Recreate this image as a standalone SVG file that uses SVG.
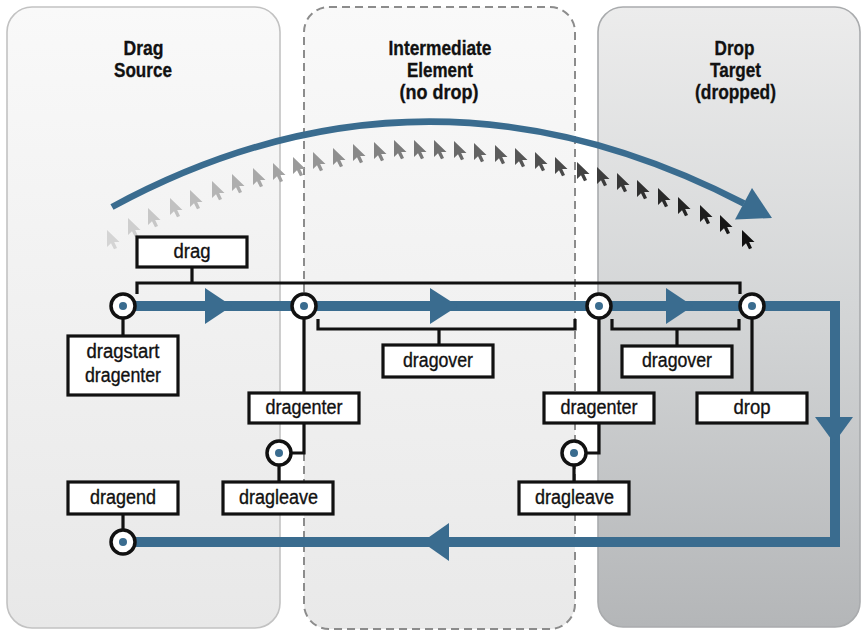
<svg xmlns="http://www.w3.org/2000/svg" width="862" height="631" viewBox="0 0 862 631">
<style>
.hdr{font-family:"Liberation Sans",Arial,sans-serif;font-weight:bold;font-size:19.5px;fill:#111;text-anchor:middle;stroke:#111;stroke-width:0.3}
.lbl{font-family:"Liberation Sans",Arial,sans-serif;font-size:20px;fill:#111;text-anchor:middle;stroke:#111;stroke-width:0.35}
.box{fill:#fff;stroke:#111;stroke-width:3.2}
.ln{fill:none;stroke:#111;stroke-width:3.2}
.flow{fill:none;stroke:#3a6c8f;stroke-width:10}
.head{fill:#3a6c8f}
.ring{fill:#fff;stroke:#111;stroke-width:3.5}
.dot{fill:#3a6c8f}
</style>
<defs>
<linearGradient id="gL" x1="0" y1="0" x2="0" y2="1"><stop offset="0" stop-color="#f9f9f9"/><stop offset="1" stop-color="#e8e8e8"/></linearGradient>
<linearGradient id="gM" x1="0" y1="0" x2="0" y2="1"><stop offset="0" stop-color="#f9f9f9"/><stop offset="1" stop-color="#e9e9e9"/></linearGradient>
<linearGradient id="gR" x1="0" y1="0" x2="0" y2="1"><stop offset="0" stop-color="#ececec"/><stop offset="0.5" stop-color="#d3d5d6"/><stop offset="1" stop-color="#b4b6b8"/></linearGradient>
<path id="cur" d="M0,0 L0,17 L4,13.2 L7,19.3 L10,18 L7.2,12 L12.5,12 Z"/>
</defs>
<rect width="862" height="631" fill="#fff"/>
<g id="panels">
<rect id="panel-source" x="7" y="7" width="273" height="621" rx="25" fill="url(#gL)" stroke="#c2c2c2" stroke-width="1.6"/>
<rect id="panel-intermediate" x="304" y="7" width="271" height="622" rx="25" fill="url(#gM)" stroke="#8c8c8c" stroke-width="2" stroke-dasharray="8 5"/>
<rect id="panel-target" x="598" y="7" width="262" height="620" rx="25" fill="url(#gR)" stroke="#a9abad" stroke-width="1.6"/>
</g>
<g id="headers">
<text class="hdr" x="143.5" y="55" textLength="40" lengthAdjust="spacingAndGlyphs">Drag</text>
<text class="hdr" x="143" y="77" textLength="58" lengthAdjust="spacingAndGlyphs">Source</text>
<text class="hdr" x="440" y="55" textLength="103" lengthAdjust="spacingAndGlyphs">Intermediate</text>
<text class="hdr" x="440" y="77" textLength="66" lengthAdjust="spacingAndGlyphs">Element</text>
<text class="hdr" x="439" y="99" textLength="79" lengthAdjust="spacingAndGlyphs">(no drop)</text>
<text class="hdr" x="734.5" y="55" textLength="40" lengthAdjust="spacingAndGlyphs">Drop</text>
<text class="hdr" x="735.5" y="77" textLength="51" lengthAdjust="spacingAndGlyphs">Target</text>
<text class="hdr" x="735.5" y="99" textLength="81" lengthAdjust="spacingAndGlyphs">(dropped)</text>
</g>
<g id="cursors">
<use href="#cur" x="107" y="230" fill="#d4d4d4"/>
<use href="#cur" x="128" y="218" fill="#cecece"/>
<use href="#cur" x="148" y="208" fill="#c7c7c7"/>
<use href="#cur" x="170" y="198" fill="#c1c1c1"/>
<use href="#cur" x="190" y="190" fill="#bbbbbb"/>
<use href="#cur" x="212" y="181" fill="#b5b5b5"/>
<use href="#cur" x="232" y="174" fill="#aeaeae"/>
<use href="#cur" x="253" y="168" fill="#a8a8a8"/>
<use href="#cur" x="273" y="163" fill="#a2a2a2"/>
<use href="#cur" x="293" y="157" fill="#9b9b9b"/>
<use href="#cur" x="313" y="152" fill="#959595"/>
<use href="#cur" x="333" y="148" fill="#8f8f8f"/>
<use href="#cur" x="353" y="144" fill="#898989"/>
<use href="#cur" x="374" y="142" fill="#828282"/>
<use href="#cur" x="394" y="140" fill="#7c7c7c"/>
<use href="#cur" x="414" y="140" fill="#767676"/>
<use href="#cur" x="434" y="140" fill="#6f6f6f"/>
<use href="#cur" x="454" y="141" fill="#696969"/>
<use href="#cur" x="474" y="143" fill="#636363"/>
<use href="#cur" x="495" y="145" fill="#5c5c5c"/>
<use href="#cur" x="515" y="148" fill="#565656"/>
<use href="#cur" x="535" y="152" fill="#505050"/>
<use href="#cur" x="555" y="157" fill="#4a4a4a"/>
<use href="#cur" x="577" y="162" fill="#434343"/>
<use href="#cur" x="597" y="167" fill="#3d3d3d"/>
<use href="#cur" x="617" y="173" fill="#373737"/>
<use href="#cur" x="637" y="180" fill="#303030"/>
<use href="#cur" x="658" y="188" fill="#2a2a2a"/>
<use href="#cur" x="678" y="197" fill="#242424"/>
<use href="#cur" x="700" y="205" fill="#1d1d1d"/>
<use href="#cur" x="720" y="215" fill="#171717"/>
<use href="#cur" x="742" y="230" fill="#111111"/>
</g>
<g id="connectors">
<path d="M112,207 Q424,38 744,203.5" fill="none" stroke="#3a6c8f" stroke-width="6.5"/>
<polygon class="head" points="752,188 735,219.5 772,218"/>
<path class="flow" d="M123,306 H835 V542 H123"/>
<polygon class="head" points="205,288 205,324 232,306"/>
<polygon class="head" points="430,288 430,324 458,306"/>
<polygon class="head" points="666,288 666,324 693,306"/>
<polygon class="head" points="815,417 853,417 834,443"/>
<polygon class="head" points="449,523 449,561 422,542"/>
<path class="ln" d="M192,267 V283 M137,294 V283 H740 V294"/>
<path class="ln" d="M318,319 V329 H575 V319 M439,329 V345"/>
<path class="ln" d="M612,319 V329 H739 V319 M677,329 V346"/>
<path class="ln" d="M123,318 V336 M304,318 V393 M599,318 V393 M752,318 V393"/>
<path class="ln" d="M304,423 V453 H291 M279,466 V482"/>
<path class="ln" d="M599,423 V453 H587 M574,466 V482"/>
<path class="ln" d="M123,514 V529"/>
</g>
<g id="node-drag"><rect class="box" x="137" y="237" width="110" height="30"/><text class="lbl" x="192" y="258" textLength="37" lengthAdjust="spacingAndGlyphs">drag</text></g>
<g id="node-dragstart"><rect class="box" x="68" y="336" width="110" height="59"/><text class="lbl" x="123" y="358" textLength="73" lengthAdjust="spacingAndGlyphs">dragstart</text><text class="lbl" x="123" y="382" textLength="76" lengthAdjust="spacingAndGlyphs">dragenter</text></g>
<g id="node-dragover-1"><rect class="box" x="383" y="345" width="110" height="32"/><text class="lbl" x="438" y="367" textLength="70" lengthAdjust="spacingAndGlyphs">dragover</text></g>
<g id="node-dragover-2"><rect class="box" x="622" y="346" width="110" height="31"/><text class="lbl" x="677" y="367" textLength="70" lengthAdjust="spacingAndGlyphs">dragover</text></g>
<g id="node-dragenter-1"><rect class="box" x="249" y="393" width="110" height="30"/><text class="lbl" x="304" y="414" textLength="77" lengthAdjust="spacingAndGlyphs">dragenter</text></g>
<g id="node-dragenter-2"><rect class="box" x="544" y="393" width="110" height="30"/><text class="lbl" x="599" y="414" textLength="77" lengthAdjust="spacingAndGlyphs">dragenter</text></g>
<g id="node-drop"><rect class="box" x="697" y="393" width="110" height="30"/><text class="lbl" x="752" y="414" textLength="37" lengthAdjust="spacingAndGlyphs">drop</text></g>
<g id="node-dragleave-1"><rect class="box" x="223" y="482" width="110" height="32"/><text class="lbl" x="278.5" y="504" textLength="79" lengthAdjust="spacingAndGlyphs">dragleave</text></g>
<g id="node-dragleave-2"><rect class="box" x="519" y="482" width="110" height="32"/><text class="lbl" x="574.5" y="504" textLength="79" lengthAdjust="spacingAndGlyphs">dragleave</text></g>
<g id="node-dragend"><rect class="box" x="68" y="482" width="110" height="32"/><text class="lbl" x="123" y="504" textLength="66" lengthAdjust="spacingAndGlyphs">dragend</text></g>
<g id="event-points">
<g id="pt-1"><circle class="ring" cx="123" cy="306" r="12"/><circle class="dot" cx="123" cy="306" r="4"/></g>
<g id="pt-2"><circle class="ring" cx="304" cy="306" r="12"/><circle class="dot" cx="304" cy="306" r="4"/></g>
<g id="pt-3"><circle class="ring" cx="599" cy="306" r="12"/><circle class="dot" cx="599" cy="306" r="4"/></g>
<g id="pt-4"><circle class="ring" cx="752" cy="306" r="12"/><circle class="dot" cx="752" cy="306" r="4"/></g>
<g id="pt-5"><circle class="ring" cx="279" cy="453" r="12"/><circle class="dot" cx="279" cy="453" r="4"/></g>
<g id="pt-6"><circle class="ring" cx="574" cy="453" r="12"/><circle class="dot" cx="574" cy="453" r="4"/></g>
<g id="pt-7"><circle class="ring" cx="123" cy="542" r="12"/><circle class="dot" cx="123" cy="542" r="4"/></g>
</g>
</svg>
